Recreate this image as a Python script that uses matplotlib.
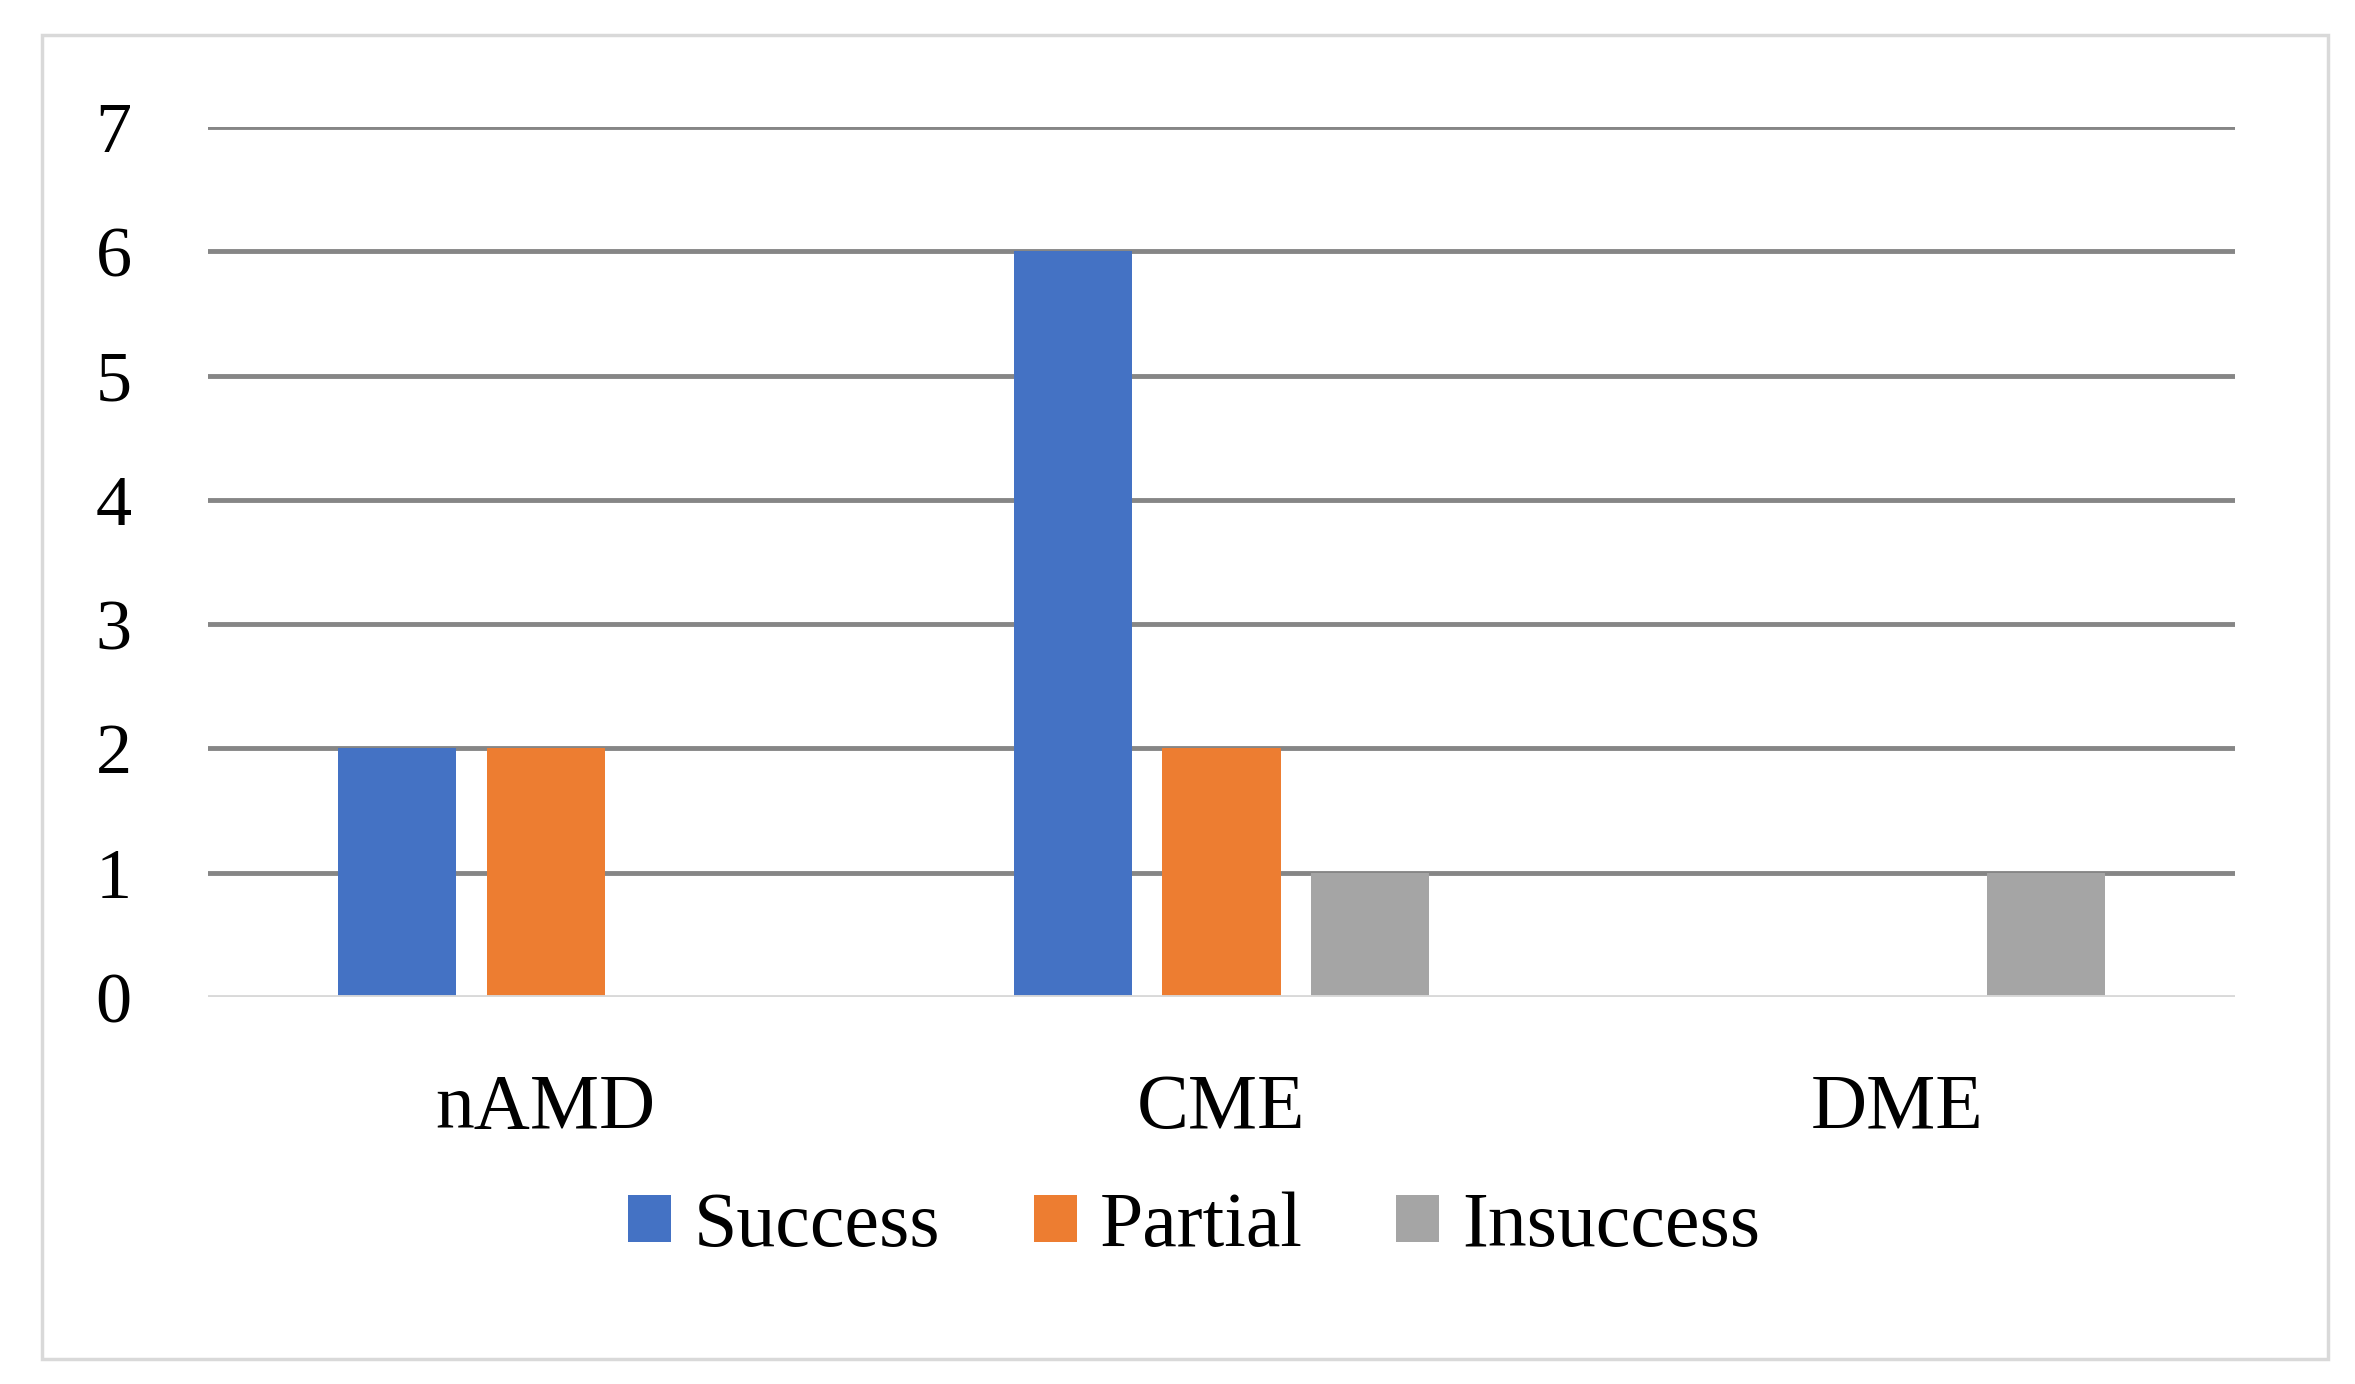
import numpy as np
import matplotlib
matplotlib.use("Agg")
import matplotlib.pyplot as plt
from matplotlib.patches import Rectangle

categories = ["nAMD", "CME", "DME"]
success = [2, 6, 0]
partial = [2, 2, 0]
insuccess = [0, 1, 1]
series_names = ["Success", "Partial", "Insuccess"]
colors = ["#4472C4", "#ED7D31", "#A5A5A5"]

plt.rcParams["font.family"] = ["Liberation Serif", "DejaVu Serif"]

fig = plt.figure(figsize=(23.55, 13.84), dpi=100)
ax = fig.add_axes([0.0883, 0.2796, 0.8607, 0.6286])

x = np.arange(len(categories))
width = 0.175
step = 0.22
for i, (vals, name, c) in enumerate(zip([success, partial, insuccess], series_names, colors)):
    ax.bar(x + (i - 1) * step, vals, width, color=c, label=name, zorder=3)

ax.set_xlim(-0.5, 2.5)
ax.set_ylim(0, 7)
ax.set_yticks(range(0, 8))
ax.set_xticks(x)
ax.set_xticklabels(categories)

# horizontal gridlines
for yv in range(1, 8):
    ax.axhline(yv, color="#868686", lw=3.5, zorder=1)
ax.axhline(0, color="#d9d9d9", lw=3.5, zorder=4)

for s in ax.spines.values():
    s.set_visible(False)
ax.tick_params(axis="y", length=0, pad=55, labelsize=52)
ax.tick_params(axis="x", length=0, pad=55, labelsize=56)

fig.legend(loc="center", bbox_to_anchor=(0.507, 0.113), ncol=3, frameon=False,
           fontsize=56, handlelength=0.55, handleheight=0.55, handletextpad=0.3,
           columnspacing=1.2)

# outer chart border
fig.patches.append(Rectangle((42 / 2355, 1 - 1359 / 1384), (2328 - 42) / 2355, (1359 - 35) / 1384,
                             transform=fig.transFigure, fill=False, edgecolor="#d9d9d9", lw=2.5))

fig.savefig("out.png", dpi=100, facecolor="white")
